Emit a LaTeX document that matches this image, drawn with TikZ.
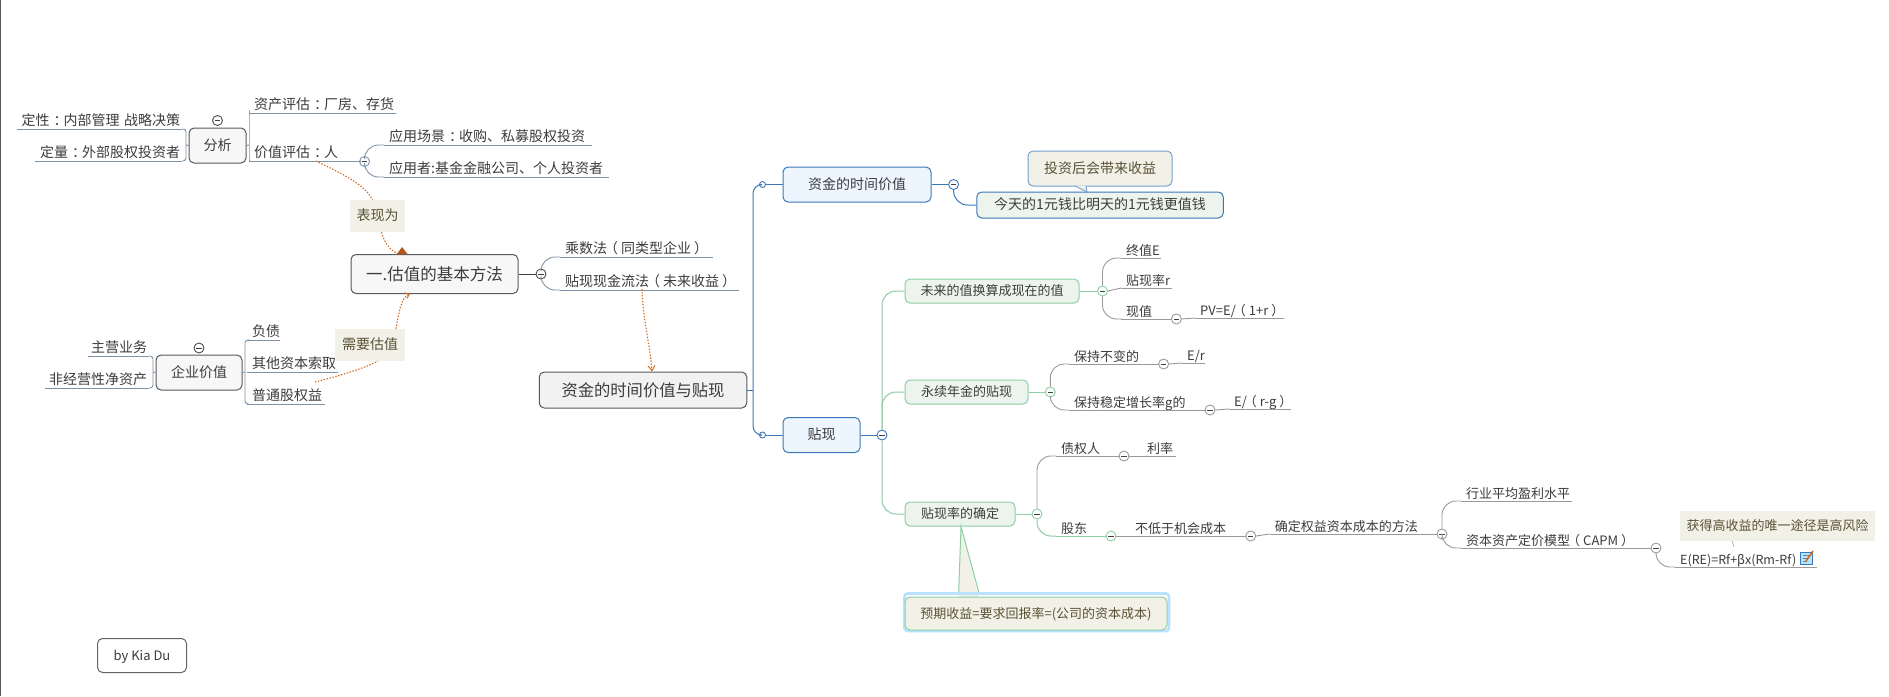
\documentclass[tikz,border=0pt]{standalone}
\usepackage{fontspec}
\setmainfont{Noto Sans CJK SC}
\usetikzlibrary{arrows.meta}
\definecolor{txt}{HTML}{3C3C3C}
\definecolor{lineS}{HTML}{7F93A8}
\definecolor{lineG}{HTML}{9A9A9A}
\definecolor{greenL}{HTML}{8ECDA6}
\definecolor{blueL}{HTML}{3B78B8}
\definecolor{orangeD}{HTML}{D2671F}
\definecolor{noteF}{HTML}{F2F1E8}
\definecolor{noteT}{HTML}{5A5236}
\newcommand\lpr{\kern-3pt（\kern3pt}
\newcommand\rpr{\kern3pt）\kern-3pt}
\newcommand\cln{\kern4pt：\kern-4pt}
\tikzset{
 x=1pt,y=-1pt,
 every node/.style={text=txt,inner sep=0pt},
 fs/.style={font=\fontsize{#1}{#1}\selectfont},
 topic/.style={anchor=south west,text width=#1pt,align=left,text height=11pt,text depth=3pt,
   fs=14,execute at begin node={\hspace*{5pt}}},
 topicS/.style={topic=#1,fs=13,text depth=2.8pt},
 topicR/.style={anchor=south west,text width=#1pt,align=right,text height=11pt,text depth=3pt,
   fs=14,execute at end node={\hspace*{2pt}}},
 bx/.style 2 args={rectangle,rounded corners=5pt,minimum width=#1pt,minimum height=#2pt,line width=1pt,text height=11.5pt,text depth=2pt},
 boxGrey/.style 2 args={bx={#1}{#2},draw=black!65,fill=black!3,fs=14},
 boxBlue/.style 2 args={bx={#1}{#2},draw=blueL,fill=blue!50!cyan!7,fs=14},
 boxGreen/.style 2 args={bx={#1}{#2},draw=greenL,fill=green!40!black!7,fs=13},
 noteBox/.style 2 args={bx={#1}{#2},fill=noteF,text=noteT},
 noteTag/.style 2 args={rectangle,minimum width=#1pt,minimum height=#2pt,fill=noteF,text=noteT,text height=11.5pt,text depth=2pt},
 fold/.style={circle,draw=#1,fill=white,minimum size=10pt,line width=0.9pt,
   path picture={\draw[black!75,line width=1pt] (-2.6pt,0pt)--(2.6pt,0pt);}},
 foldDark/.style={fold=black!70},
 tiny/.style={circle,draw=blueL,fill=white,minimum size=6pt,line width=0.9pt},
 lS/.style={draw=lineS,line width=0.9pt},
 lG/.style={draw=lineG,line width=0.9pt},
 lGr/.style={draw=greenL,line width=1pt},
 lB/.style={draw=blueL,line width=1pt},
 elbow/.style={rounded corners=14pt},
 relate/.style={draw=orangeD,line width=1.1pt,dash pattern=on 1.4pt off 1.6pt},
}
\begin{document}
\begin{tikzpicture}
\useasboundingbox (0,0) rectangle (1889,696);
\fill[white] (0,0) rectangle (1889,696);
\draw[black!65,line width=1pt] (0.5,0) -- (0.5,696);

% --- coordinates for brackets and free ends
\coordinate (brA) at (186,145);
\coordinate (brB) at (249,145);
\coordinate (brC) at (153,372);
\coordinate (brD) at (245,372);
\coordinate (trunk) at (753,390);
\coordinate (rA) at (316,161);
\coordinate (rB) at (315,382);
\coordinate (rC) at (642,289);

% --- left group: analysis
\node[boxGrey={57}{35}] (fx) at (217.5,145.5) {分析};
\node[topicR=165] (dx) at (17,129) {定性\cln 内部管理~战略决策};
\node[topicR=147] (dl) at (35,161) {定量\cln 外部股权投资者};
\node[topic=147] (zc) at (249,113) {资产评估\cln 厂房、存货};
\node[topic=112] (jz) at (249,161) {价值评估\cln 人};
\node[topic=208] (yc) at (384,145) {应用场景\cln 收购、私募股权投资};
\node[topic=225] (yz) at (384,177) {应用者:基金金融公司、个人投资者};

% --- left group: enterprise value
\node[boxGrey={86}{35}] (qy) at (199,372.5) {企业价值};
\node[topicR=61] (zy) at (88,356) {主营业务};
\node[topicR=104] (fj) at (45,388) {非经营性净资产};
\node[topic=33] (fz) at (247,340) {负债};
\node[topic=91] (qt) at (247,372) {其他资本索取};
\node[topic=78] (pt) at (247,404) {普通股权益};

% --- central
\node[boxGrey={167}{39},fs=16.5,text height=13pt,text depth=1pt] (gz) at (434.5,274) {一.估值的基本方法};
\node[topic=153] (cs) at (560,257) {乘数法\lpr 同类型企业\rpr};
\node[topic=178.5] (tx) at (560,290) {贴现现金流法\lpr 未来收益\rpr};
\node[boxGrey={207.5}{36},fs=16.3,fill=black!5,text height=13pt,text depth=1pt] (zj) at (643,390) {资金的时间价值与贴现};

% --- right: time value
\node[boxBlue={148}{35}] (sj) at (857,184.5) {资金的时间价值};
\node[bx={246.5}{26},draw=blueL,fill=green!40!black!7,fs=14] (jt) at (1100,205) {今天的1元钱比明天的1元钱更值钱};
\node[noteBox={144}{35},draw=blueL!70,fs=14] (tz) at (1100,168.5) {投资后会带来收益};

% --- right: discount
\node[boxBlue={77}{35}] (dc) at (821.5,435) {贴现};
\node[boxGreen={174}{24}] (wl) at (992,291) {未来的值换算成现在的值};
\node[boxGreen={123}{24}] (yx) at (966.5,392) {永续年金的贴现};
\node[boxGreen={110}{24}] (qd) at (960,514) {贴现率的确定};

\node[topicS=40] (zz) at (1121,258) {终值E};
\node[topicS=51] (tl) at (1121,288) {贴现率r};
\node[topicS=50] (xz) at (1121,319) {现值};
\node[topicS=89] (pv) at (1195,318) {PV=E/\lpr 1+r\rpr};

\node[topicS=90] (bc) at (1069,364) {保持不变的};
\node[topicS=22.5] (er) at (1182,363) {E/r};
\node[topicS=136] (bz) at (1069,410) {保持稳定增长率g的};
\node[topicS=61.6] (eg) at (1229,409) {E/\lpr r-g\rpr};

\node[topicS=63] (zq) at (1056,456) {债权人};
\node[topicS=34] (ll) at (1142,456) {利率};
\node[topicS=50] (gd) at (1056,536) {股东};
\node[topicS=116] (bd) at (1130,536) {不低于机会成本};
\node[topicS=167] (qq) at (1269.6,534) {确定权益资本成本的方法};
\node[topicS=111] (hy) at (1461,501) {行业平均盈利水平};
\node[topicS=190] (zb) at (1461,548) {资本资产定价模型\lpr CAPM\rpr};
\node[topicS=142,fs=12.5] (ee) at (1675,567) {E(RE)=Rf+βx(Rm-Rf)};

% --- notes and labels
\node[noteTag={55}{32},fs=14] (lb1) at (377.5,216) {表现为};
\node[noteTag={70}{32},fs=14] (lb2) at (370,345) {需要估值};
\node[noteTag={195}{30},fs=13] (hg) at (1777.5,526) {获得高收益的唯一途径是高风险};

% --- fold marks and junction dots (named, drawn after the lines would hide them: lines stop at their rims)
\node[foldDark] (f1) at (217.5,120.5) {};
\node[fold=lineS] (f2) at (364.5,161.5) {};
\node[foldDark] (f3) at (199,348) {};
\node[foldDark] (f4) at (541,274) {};
\node[tiny] (d1) at (762.5,184.5) {};
\node[tiny] (d2) at (762.5,435) {};
\node[fold=blueL] (f5) at (953.6,184.5) {};
\node[fold=blueL] (f6) at (882,435) {};
\node[fold=greenL] (f7) at (1102.5,291) {};
\node[fold=greenL] (f8) at (1050.3,392) {};
\node[fold=greenL] (f9) at (1037,514) {};
\node[fold=lineG] (f10) at (1176.4,319) {};
\node[fold=lineG] (f11) at (1163.6,364) {};
\node[fold=lineG] (f12) at (1210,410) {};
\node[fold=lineG] (f13) at (1124,456) {};
\node[fold=greenL] (f14) at (1111,536) {};
\node[fold=lineG] (f15) at (1250.7,536) {};
\node[fold=lineG] (f16) at (1442,534) {};
\node[fold=lineG] (f17) at (1656,548) {};

% --- underlines
\foreach \n in {dx,dl,zc,jz,yc,yz,zy,fj,fz,qt,pt,cs,tx}
  \draw[lS] (\n.south west) -- (\n.south east);
\foreach \n in {zz,tl,xz,pv,bc,er,bz,eg,zq,ll,bd,qq,hy,zb,ee}
  \draw[lG] (\n.south west) -- (\n.south east);
\draw[lGr] (gd.south west) -- (gd.south east);

% --- connectors, left
\draw[lS,rounded corners=3pt] (dx.south east) -| (brA) |- (dl.south east);
\draw[lS] (brA) -- (fx.west);
\draw[lS,rounded corners=3pt] (zc.south west) -| (brB) |- (jz.south west);
\draw[lS] (brB) -- (fx.east);
\draw[lS] (jz.south east) -- (f2.west);
\draw[lS,elbow] (f2.north) |- (yc.south west);
\draw[lS,elbow] (f2.south) |- (yz.south west);
\draw[lS,rounded corners=3pt] (zy.south east) -| (brC) |- (fj.south east);
\draw[lS] (brC) -- (qy.west);
\draw[lS,rounded corners=3pt] (fz.south west) -| (brD) |- (pt.south west);
\draw[lS] (brD) -- (qy.east);
\draw[black!75,line width=1pt] (gz.east) -- (f4.west);
\draw[lS,elbow] (f4.north) |- (cs.south west);
\draw[lS,elbow] (f4.south) |- (tx.south west);
% --- connectors, trunk
\draw[lB] (zj.east) -- (trunk);
\draw[lB,rounded corners=9pt] (d1.west) -| (trunk) |- (d2.west);
\draw[lB] (d1.east) -- (sj.west);
\draw[lB] (d2.east) -- (dc.west);
\draw[lB] (sj.east) -- (f5.west);
\draw[lB,elbow] (f5.south) |- (jt.west);
\draw[lB] (dc.east) -- (f6.west);
\draw[lGr,elbow] (f6.north) |- (wl.west);
\draw[lGr,elbow] (f6.north) |- (yx.west);
\draw[lGr,elbow] (f6.south) |- (qd.west);
\draw[lGr] (wl.east) -- (f7.west);
\draw[lGr] (yx.east) -- (f8.west);
\draw[lGr] (qd.east) -- (f9.west);
\draw[lG,elbow] (f7.north) |- (zz.south west);
\draw[lG] (f7.east) -- (tl.south west);
\draw[lG,elbow] (f7.south) |- (xz.south west);
\draw[lG] (xz.south east) -- (f10.west);
\draw[lG] (f10.east) -- (pv.south west);
\draw[lG,elbow] (f8.north) |- (bc.south west);
\draw[lG,elbow] (f8.south) |- (bz.south west);
\draw[lG] (bc.south east) -- (f11.west);
\draw[lG] (f11.east) -- (er.south west);
\draw[lG] (bz.south east) -- (f12.west);
\draw[lG] (f12.east) -- (eg.south west);
\draw[lG,elbow] (f9.north) |- (zq.south west);
\draw[lGr,elbow] (f9.south) |- (gd.south west);
\draw[lG] (zq.south east) -- (f13.west);
\draw[lG] (f13.east) -- (ll.south west);
\draw[lGr] (gd.south east) -- (f14.west);
\draw[lG] (f14.east) -- (bd.south west);
\draw[lG] (bd.south east) -- (f15.west);
\draw[lG] (f15.east) -- (qq.south west);
\draw[lG] (qq.south east) -- (f16.west);
\draw[lG,elbow] (f16.north) |- (hy.south west);
\draw[lG,elbow] (f16.south) |- (zb.south west);
\draw[lG] (zb.south east) -- (f17.west);
\draw[lG,elbow] (f17.south) |- (ee.south west);

% --- callout tails
\fill[noteF] (1075,185.5) -- (1087,192) -- (1086,185.5) -- cycle;
\draw[blueL!70,line width=0.9pt] (1075,186) -- (1087,192) -- (1086,186);
\coordinate (tailTop) at (961,526.5);
\fill[noteF] (tailTop) -- (958.7,597) -- (978.7,597) -- cycle;
\draw[greenL,line width=1pt] (958.7,592) -- (tailTop) -- (978.7,592);

% --- bottom note
\draw[blue!40!cyan!28,line width=2.6pt,rounded corners=3pt] (904.5,593.5) rectangle (1169,631);
\node[noteBox={262}{33},draw=greenL,fs=13] (yq) at (1036,613.5) {预期收益=要求回报率=(公司的资本成本)};

% --- relationships
\draw[relate] (rA) .. controls (345,175) and (365,185) .. ([xshift=-5pt]lb1.north);
\draw[relate] ([xshift=4pt]lb1.south) .. controls (385,245) and (392,251) .. (398,254);
\fill[orangeD!85!black] (402,247) -- (407.5,254) -- (397,254) -- cycle;
\draw[relate] (rB) .. controls (335,377) and (360,370) .. ([xshift=8pt]lb2.south);
\draw[relate,-{Straight Barb[length=4pt,width=6pt,line width=1pt]}] ([xshift=26pt]lb2.north) .. controls (399,312) and (401,298) .. (410,293.5);
\draw[relate,-{Straight Barb[length=5pt,width=7pt,line width=1pt]}] (rC) .. controls (643,320) and (650,345) .. (zj.north -| 652,372);

% --- icon
\draw[black!35,line width=0.6pt] (1732,541) -- (1734,547);
\fill[blue!35!cyan!30] (1800.5,552) rectangle (1812.5,564);
\draw[blueL,line width=0.7pt] (1800.5,552) rectangle (1812.5,564);
\draw[black!50,line width=0.5pt] (1802.5,555.5) -- (1809,555.5) (1802.5,558.5) -- (1808,558.5) (1802.5,561.5) -- (1807,561.5);
\draw[orangeD,line width=1.6pt] (1806,561) -- (1813,551);

% --- signature
\node[bx={89}{34},draw=black!60,fill=white,fs=13] (by) at (142,655.5) {by Kia Du};
\end{tikzpicture}
\end{document}
